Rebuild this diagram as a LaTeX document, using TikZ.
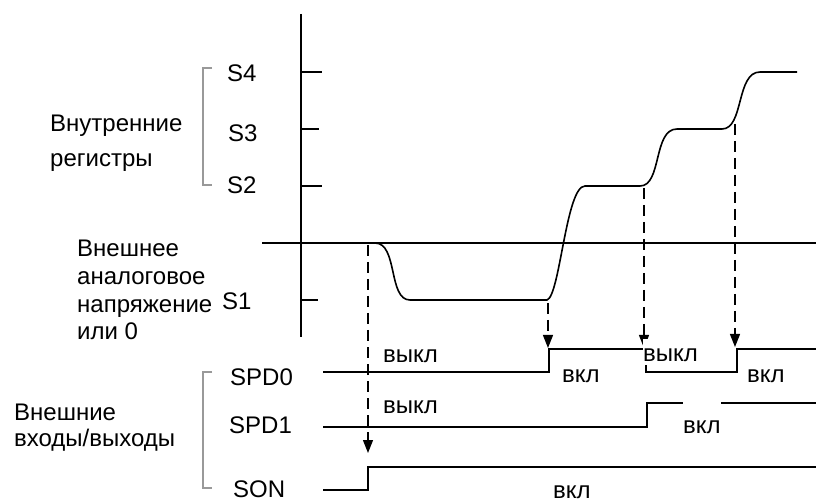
\documentclass[tikz,border=0pt]{standalone}
\usepackage{fontspec}
\setmainfont{Liberation Sans}
\usetikzlibrary{arrows.meta}
\begin{document}
\begin{tikzpicture}[x=1pt,y=-1pt,
  lbl/.style={anchor=base west, inner sep=0pt, font=\fontsize{24}{28}\selectfont},
  axisline/.style={line width=1.6pt},
  sig/.style={line width=1.6pt},
  brk/.style={draw=gray!80, line width=1.3pt},
  guide/.style={line width=1.3pt, dash pattern=on 11pt off 6pt},
  tipend/.style={-{Triangle[width=10pt,length=13pt]}},
  cover/.style={fill=white}
]
\useasboundingbox (0,0) rectangle (816,502);

% axes
\draw[axisline] (301,14) -- (301,337);
\draw[axisline] (262,243) -- (816,243);
\draw[axisline] (301,72) -- (322,72);
\draw[axisline] (301,129) -- (319,129);
\draw[axisline] (301,186) -- (322,186);
\draw[axisline] (301,300) -- (318,300);

% analog signal
\draw[sig] (315,243) -- (375,243) .. controls (398,243) and (388,300) .. (410,300)
  -- (547,300) .. controls (560,296) and (566,186) .. (585,186)
  -- (640,186) .. controls (662,186) and (653,129) .. (677,129)
  -- (722,129) .. controls (744,129) and (736,72) .. (760,72) -- (797,72);

% digital signals
\draw[sig] (323,372) -- (549,372) -- (549,349) -- (646,349) -- (646,372) -- (737,372) -- (737,349) -- (816,349);
\draw[sig] (323,427) -- (647,427) -- (647,403) -- (816,403);
\draw[sig] (323,490) -- (368,490) -- (368,467) -- (816,467);

% dashed guides
\coordinate (d1s) at (368,245); \coordinate (d1e) at (368,453);
\coordinate (d2s) at (548,303); \coordinate (d2e) at (548,348);
\coordinate (d3s) at (644,188); \coordinate (d3e) at (644,348);
\coordinate (d4s) at (735,124); \coordinate (d4e) at (735,347);
\draw[guide,tipend] (d1s) -- (d1e);
\draw[guide,tipend] (d2s) -- (d2e);
\draw[guide,tipend] (d3s) -- (d3e);
\draw[guide,tipend] (d4s) -- (d4e);

% brackets
\draw[brk] (212,68) -- (203,68) -- (203,185) -- (212,185);
\draw[brk] (212,372) -- (203,372) -- (203,488) -- (212,488);

% left labels
\node[lbl] (s4) at (227,82) {S4};
\node[lbl] (s3) at (228,142) {S3};
\node[lbl] (s2) at (227,194) {S2};
\node[lbl] (s1) at (222,310) {S1};
\node[lbl] (int1) at (50,132) {Внутренние};
\node[lbl] (int2) at (50,167) {регистры};
\node[lbl] (ext1) at (77,257) {Внешнее};
\node[lbl] (ext2) at (77,285) {аналоговое};
\node[lbl] (ext3) at (77,313) {напряжение};
\node[lbl] (ext4) at (77,340) {или 0};
\node[lbl] (spd0) at (230,385) {SPD0};
\node[lbl] (spd1) at (229,433) {SPD1};
\node[lbl] (son) at (233,497) {SON};
\node[lbl] (io1) at (14,420) {Внешние};
\node[lbl] (io2) at (14,446) {входы/выходы};

% state labels
\node[lbl] (off1) at (383,362) {выкл};
\node[lbl] (off2) at (383,413) {выкл};
\node[lbl] (on1) at (562,382) {вкл};
\node[lbl,cover,text height=22pt,text depth=4pt] (off3) at (643,361) {выкл};
\node[lbl] (on2) at (747,382) {вкл};
\node[lbl,cover,text height=31pt,text depth=2pt,inner xsep=0pt] (on3) at (683,433) {вкл};
\node[lbl] (on4) at (553,498) {вкл};
\end{tikzpicture}
\end{document}
